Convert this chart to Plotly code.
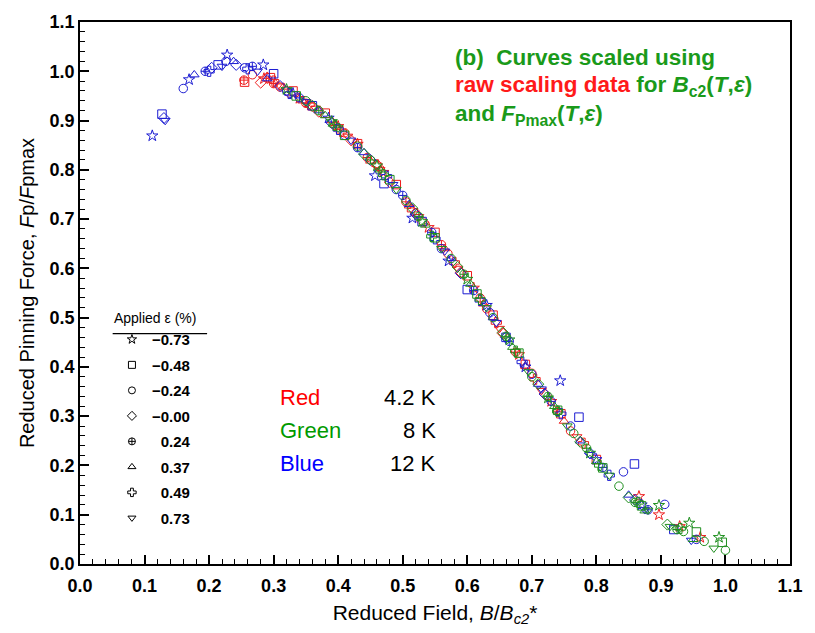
import plotly.graph_objects as go

# ---------------- data ----------------
strain_labels = ["\u22120.73", "\u22120.48", "\u22120.24", "\u22120.00", "0.24", "0.37", "0.49", "0.73"]
strain_symbols = ["star-open", "square-open", "circle-open", "diamond-open",
                  "circle-cross-open", "triangle-up-open", "cross-open", "triangle-down-open"]

# 4.2 K (red)
red_x = [
    [0.285, 0.34, 0.40, 0.43, 0.47, 0.54, 0.61, 0.68, 0.73, 0.866, 0.897, 0.929, 0.961],
    [0.255, 0.295, 0.33, 0.38, 0.43, 0.49, 0.55, 0.60, 0.64, 0.69, 0.745, 0.80],
    [0.267, 0.31, 0.36, 0.41, 0.46, 0.52, 0.57, 0.63, 0.70, 0.76],
    [0.28, 0.325, 0.37, 0.42, 0.48, 0.53, 0.59, 0.655, 0.72],
    [0.254, 0.30, 0.35, 0.395, 0.445, 0.505, 0.56, 0.62, 0.675, 0.74],
    [0.29, 0.315, 0.345, 0.39, 0.45, 0.51, 0.565, 0.625, 0.69, 0.75],
    [0.30, 0.355, 0.405, 0.46, 0.515, 0.58, 0.645, 0.705, 0.78],
    [0.31, 0.365, 0.415, 0.465, 0.525, 0.585, 0.65, 0.715, 0.77],
]
red_y = [
    [0.985, 0.945, 0.888, 0.852, 0.795, 0.683, 0.56, 0.425, 0.33, 0.137, 0.10, 0.076, 0.054],
    [0.978, 0.987, 0.96, 0.915, 0.853, 0.77, 0.673, 0.585, 0.505, 0.405, 0.305, 0.212],
    [0.993, 0.968, 0.928, 0.875, 0.81, 0.712, 0.63, 0.518, 0.387, 0.27],
    [0.977, 0.955, 0.918, 0.86, 0.775, 0.696, 0.592, 0.468, 0.345],
    [0.982, 0.975, 0.935, 0.89, 0.825, 0.735, 0.648, 0.54, 0.43, 0.31],
    [0.99, 0.968, 0.94, 0.90, 0.818, 0.727, 0.64, 0.528, 0.402, 0.29],
    [0.98, 0.932, 0.878, 0.81, 0.718, 0.612, 0.49, 0.375, 0.245],
    [0.97, 0.925, 0.868, 0.80, 0.705, 0.60, 0.478, 0.352, 0.258],
]

# 12 K (blue)
blue_x = [
    [0.112, 0.169, 0.228, 0.284, 0.33, 0.385, 0.457, 0.515, 0.571, 0.63, 0.69, 0.744, 0.80, 0.87],
    [0.127, 0.214, 0.30, 0.36, 0.471, 0.53, 0.60, 0.66, 0.773, 0.859, 0.92],
    [0.160, 0.226, 0.255, 0.32, 0.41, 0.49, 0.56, 0.635, 0.70, 0.76, 0.842, 0.906, 0.955],
    [0.13, 0.204, 0.242, 0.31, 0.39, 0.45, 0.52, 0.59, 0.66, 0.72, 0.79, 0.86],
    [0.194, 0.267, 0.34, 0.43, 0.50, 0.545, 0.61, 0.665, 0.73, 0.81, 0.88],
    [0.177, 0.238, 0.29, 0.37, 0.44, 0.51, 0.575, 0.64, 0.71, 0.775, 0.85],
    [0.20, 0.26, 0.325, 0.40, 0.475, 0.55, 0.62, 0.685, 0.745, 0.82],
    [0.132, 0.22, 0.275, 0.35, 0.42, 0.485, 0.565, 0.645, 0.715, 0.79, 0.875, 0.947],
]
blue_y = [
    [0.869, 0.983, 1.033, 1.013, 0.955, 0.905, 0.788, 0.702, 0.615, 0.525, 0.40, 0.372, 0.212, 0.12],
    [0.913, 1.013, 0.995, 0.93, 0.772, 0.695, 0.557, 0.46, 0.298, 0.203, 0.07],
    [0.965, 1.02, 1.007, 0.96, 0.87, 0.76, 0.64, 0.51, 0.385, 0.28, 0.187, 0.121, 0.05],
    [0.905, 1.007, 1.013, 0.97, 0.895, 0.82, 0.71, 0.59, 0.46, 0.345, 0.225, 0.13],
    [1.0, 1.01, 0.946, 0.845, 0.748, 0.673, 0.555, 0.452, 0.33, 0.196, 0.11],
    [0.993, 1.02, 0.985, 0.92, 0.835, 0.73, 0.62, 0.50, 0.365, 0.25, 0.14],
    [1.0, 1.005, 0.955, 0.882, 0.787, 0.66, 0.535, 0.41, 0.305, 0.18],
    [0.90, 1.01, 1.0, 0.938, 0.86, 0.77, 0.635, 0.49, 0.355, 0.222, 0.11, 0.048],
]

# 8 K (green)
green_x = [
    [0.32, 0.39, 0.46, 0.53, 0.60, 0.665, 0.725, 0.79, 0.897, 0.944, 0.99],
    [0.335, 0.41, 0.48, 0.55, 0.615, 0.68, 0.74, 0.81, 0.87, 0.955, 0.995],
    [0.35, 0.43, 0.505, 0.575, 0.64, 0.70, 0.765, 0.835, 0.935, 0.967, 1.0],
    [0.36, 0.44, 0.515, 0.585, 0.655, 0.71, 0.775, 0.85, 0.91],
    [0.37, 0.45, 0.525, 0.595, 0.66, 0.725, 0.785, 0.86, 0.925],
    [0.38, 0.465, 0.535, 0.605, 0.67, 0.735, 0.80, 0.875, 0.95],
    [0.395, 0.47, 0.545, 0.62, 0.675, 0.74, 0.805, 0.865, 0.93],
    [0.40, 0.49, 0.56, 0.63, 0.695, 0.755, 0.82, 0.88, 0.914, 0.982],
]
green_y = [
    [0.963, 0.898, 0.808, 0.695, 0.578, 0.455, 0.337, 0.225, 0.119, 0.083, 0.054],
    [0.95, 0.87, 0.78, 0.662, 0.548, 0.428, 0.312, 0.195, 0.118, 0.065, 0.044],
    [0.94, 0.848, 0.738, 0.62, 0.50, 0.38, 0.265, 0.158, 0.066, 0.046, 0.028],
    [0.93, 0.832, 0.722, 0.603, 0.47, 0.365, 0.248, 0.135, 0.08],
    [0.92, 0.82, 0.705, 0.588, 0.462, 0.34, 0.235, 0.125, 0.07],
    [0.91, 0.80, 0.688, 0.568, 0.44, 0.32, 0.208, 0.108, 0.05],
    [0.89, 0.79, 0.665, 0.537, 0.432, 0.31, 0.20, 0.125, 0.072],
    [0.885, 0.76, 0.64, 0.52, 0.39, 0.28, 0.18, 0.109, 0.076, 0.032],
]

temperatures = [("4.2 K", "#ee1c1c", red_x, red_y),
                ("12 K", "#1c1cd2", blue_x, blue_y),
                ("8 K", "#1f8f1f", green_x, green_y)]

x_ticks = [0.0, 0.1, 0.2, 0.3, 0.4, 0.5, 0.6, 0.7, 0.8, 0.9, 1.0, 1.1]
y_ticks = [0.0, 0.1, 0.2, 0.3, 0.4, 0.5, 0.6, 0.7, 0.8, 0.9, 1.0, 1.1]

# ---------------- figure ----------------
fig = go.Figure()

for tname, col, xs, ys in temperatures:
    for i, sym in enumerate(strain_symbols):
        fig.add_trace(go.Scatter(
            x=xs[i], y=ys[i], mode="markers",
            name=f"{tname}, \u03b5 = {strain_labels[i]}%",
            showlegend=False,
            marker=dict(symbol=sym, size=8.5, color=col, line=dict(width=1, color=col)),
        ))

# legend entries (black symbols)
for i, sym in enumerate(strain_symbols):
    lab = strain_labels[i]
    if not lab.startswith("\u2212"):
        lab = "<span style='color:rgba(0,0,0,0)'>\u2212</span>" + lab
    fig.add_trace(go.Scatter(
        x=[None], y=[None], mode="markers", name=lab,
        legendgroup=f"g{i}",
        marker=dict(symbol=sym, size=7, color="black", line=dict(width=1, color="black")),
    ))

tickfont = dict(family="Liberation Sans Narrow, Arial Narrow, Arial", size=18, color="black", weight="bold")
axis_common = dict(
    showline=True, linecolor="black", linewidth=1.5, mirror=True,
    ticks="inside", ticklen=9, tickwidth=1.5, tickcolor="black",
    showgrid=False, zeroline=False, tickfont=tickfont,
    minor=dict(ticks="inside", ticklen=5, tickwidth=1, tickcolor="black", dtick=0.02),
)

titlefont = dict(family="Liberation Sans Narrow, Arial Narrow, Arial", size=20, color="black")
fig.update_xaxes(range=[0, 1.1], tickvals=x_ticks, ticktext=[f"{v:.1f}" for v in x_ticks],
                 ticklabelstandoff=5,
                 title=dict(text="Reduced Field, <i>B</i>/<i>B</i><sub><i>c2</i></sub>*",
                            font=dict(family="Liberation Sans Narrow, Arial Narrow, Arial", size=21, color="black"),
                            standoff=10),
                 **axis_common)
fig.update_yaxes(range=[0, 1.1], tickvals=y_ticks, ticktext=[f"{v:.1f}" for v in y_ticks],
                 title=dict(text="Reduced Pinning Force, <i>F</i>p/<i>F</i>pmax",
                            font=titlefont, standoff=10),
                 **axis_common)

fig.update_layout(
    width=815, height=633,
    margin=dict(l=80, r=15, t=13, b=67),
    plot_bgcolor="white", paper_bgcolor="white",
    legend=dict(
        x=0.045, y=0.478, xanchor="left", yanchor="top",
        bgcolor="rgba(0,0,0,0)", borderwidth=0,
        font=dict(family="Arial", size=15, color="black", weight="bold"),
        title=dict(text="Applied \u03b5 (%)",
                   font=dict(family="Arial", size=14, color="black", weight="normal")),
        tracegroupgap=3, itemwidth=30,
    ),
)

# underline under the legend title
fig.add_shape(type="line", xref="paper", yref="paper",
              x0=0.046, x1=0.179, y0=0.425, y1=0.425,
              line=dict(color="black", width=1.2))

# temperature key
key_font = dict(family="Arial", size=22)
for label, col, num, yp in [("Red", "#ff0000", "4.2 K", 0.307),
                            ("Green", "#009a00", "8 K", 0.246),
                            ("Blue", "#0000ff", "12 K", 0.186)]:
    fig.add_annotation(xref="paper", yref="paper", x=0.279, y=yp, xanchor="left", yanchor="middle",
                       text=label, showarrow=False, font=dict(color=col, **key_font))
    fig.add_annotation(xref="paper", yref="paper", x=0.504, y=yp, xanchor="right", yanchor="middle",
                       text=num, showarrow=False, font=dict(color="black", **key_font))

# caption (b)
g = "#1a9a1a"
capfont = dict(family="Arial", size=22.5, color=g, weight="bold")
fig.add_annotation(xref="paper", yref="paper", x=0.525, y=0.934, xanchor="left", yanchor="middle",
                   showarrow=False, font=capfont, text="(b)  Curves scaled using")
fig.add_annotation(xref="paper", yref="paper", x=0.525, y=0.881, xanchor="left", yanchor="middle",
                   showarrow=False, font=capfont,
                   text="<span style='color:#ff1a1a'>raw scaling data</span> for <i>B</i><sub>c2</sub>(<i>T</i>,<i>\u03b5</i>)")
fig.add_annotation(xref="paper", yref="paper", x=0.525, y=0.828, xanchor="left", yanchor="middle",
                   showarrow=False, font=capfont,
                   text="and <i>F</i><sub>Pmax</sub>(<i>T</i>,<i>\u03b5</i>)")

fig.write_html("out.html")
